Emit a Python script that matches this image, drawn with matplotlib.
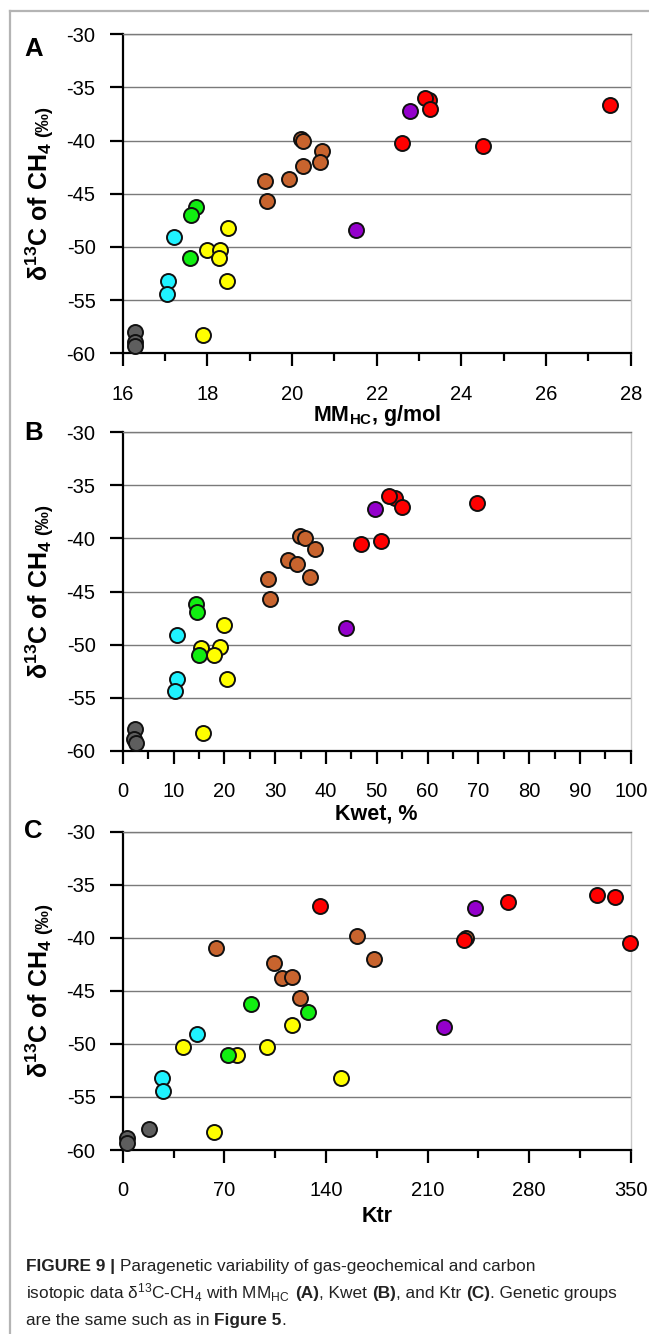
import matplotlib
matplotlib.use("Agg")
import matplotlib.pyplot as plt
from matplotlib.lines import Line2D
from matplotlib.ticker import MultipleLocator
from matplotlib import font_manager

plt.rcParams['font.family'] = ['Liberation Sans', 'DejaVu Sans']
plt.rcParams['axes.unicode_minus'] = False
plt.rcParams['mathtext.fontset'] = 'custom'
plt.rcParams['mathtext.rm'] = 'Liberation Sans'
plt.rcParams['mathtext.bf'] = 'Liberation Sans:bold'
plt.rcParams['mathtext.it'] = 'Liberation Sans:italic'

# genetic groups (plot order) and their colours
group_names = ['gray', 'cyan', 'yellow', 'green', 'brown', 'purple', 'red']
group_colors = ['#5e5e5e', '#1ff2ff', '#ffff00', '#11ee11', '#c8642e', '#9400cc', '#ff0000']

# d13C-CH4 (permil) and the three parameters for each sample, per group
gray_d13c = [-58.0, -58.9, -59.3]
gray_mm = [16.30, 16.30, 16.30]
gray_kwet = [2.5, 2.3, 2.7]
gray_ktr = [18.0, 3.0, 3.0]

cyan_d13c = [-49.1, -53.2, -54.4]
cyan_mm = [17.22, 17.07, 17.04]
cyan_kwet = [10.7, 10.7, 10.2]
cyan_ktr = [51.0, 27.2, 27.5]

yellow_d13c = [-48.2, -50.3, -50.25, -51.0, -53.2, -58.3]
yellow_mm = [18.49, 17.99, 18.31, 18.27, 18.47, 17.89]
yellow_kwet = [20.0, 15.5, 19.1, 18.0, 20.5, 15.8]
yellow_ktr = [116.8, 41.7, 99.4, 78.8, 150.5, 63.0]

green_d13c = [-46.2, -46.95, -51.0]
green_mm = [17.73, 17.62, 17.59]
green_kwet = [14.4, 14.6, 15.1]
green_ktr = [88.6, 127.6, 72.7]

brown_d13c = [-39.8, -40.0, -41.0, -42.0, -42.4, -43.8, -43.65, -45.7]
brown_mm = [20.20, 20.27, 20.70, 20.65, 20.27, 19.37, 19.92, 19.42]
brown_kwet = [34.9, 35.9, 37.8, 32.5, 34.4, 28.7, 36.8, 29.0]
brown_ktr = [161.2, 236.4, 64.3, 172.8, 104.3, 110.0, 116.3, 122.2]

purple_d13c = [-37.2, -48.4]
purple_mm = [22.78, 21.52]
purple_kwet = [49.7, 44.0]
purple_ktr = [242.5, 221.2]

red_d13c = [-36.66, -36.2, -35.97, -37.0, -40.2, -40.5]
red_mm = [27.51, 23.24, 23.14, 23.27, 22.60, 24.51]
red_kwet = [69.8, 53.7, 52.4, 55.0, 50.9, 47.0]
red_ktr = [265.5, 339.5, 326.7, 136.0, 235.3, 349.5]

d13c = [gray_d13c, cyan_d13c, yellow_d13c, green_d13c, brown_d13c, purple_d13c, red_d13c]
mm = [gray_mm, cyan_mm, yellow_mm, green_mm, brown_mm, purple_mm, red_mm]
kwet = [gray_kwet, cyan_kwet, yellow_kwet, green_kwet, brown_kwet, purple_kwet, red_kwet]
ktr = [gray_ktr, cyan_ktr, yellow_ktr, green_ktr, brown_ktr, purple_ktr, red_ktr]

W, H = 649, 1334
fig = plt.figure(figsize=(W / 100, H / 100), dpi=100)
fig.patch.set_facecolor('white')
renderer = fig.canvas.get_renderer()

# frame lines of the figure page (top and left)
fig.add_artist(Line2D([10 / W, 1], [1 - 10.7 / H] * 2, transform=fig.transFigure, color='#b4b4b4', lw=1.6))
fig.add_artist(Line2D([10 / W] * 2, [0, 1 - 10.7 / H], transform=fig.transFigure, color='#b4b4b4', lw=1.6))


def panel(top_px, bottom_px):
    left, right = 122.7, 630.7
    return fig.add_axes([left / W, 1 - bottom_px / H, (right - left) / W, (bottom_px - top_px) / H])


def style(ax, major, minor):
    ax.set_ylim(-60, -30)
    ax.xaxis.set_major_locator(MultipleLocator(major))
    ax.xaxis.set_minor_locator(MultipleLocator(minor))
    ax.yaxis.set_major_locator(MultipleLocator(5))
    ax.grid(axis='y', color='#7a7a7a', lw=1.0)
    ax.set_axisbelow(True)
    ax.spines['top'].set_color('#7a7a7a')
    ax.spines['top'].set_linewidth(1.0)
    ax.spines['right'].set_color('#c8c8c8')
    ax.spines['right'].set_linewidth(1.0)
    for s in ['left', 'bottom']:
        ax.spines[s].set_linewidth(1.6)
        ax.spines[s].set_color('black')
    ax.tick_params(axis='both', which='major', direction='out', length=9.5, width=1.6,
                   labelsize=14.5, pad=10, colors='black')
    ax.tick_params(axis='x', which='major', pad=13)
    ax.tick_params(axis='x', which='minor', direction='out', length=5.5, width=1.6)
    ax.tick_params(axis='y', which='minor', length=0)


def scatter(ax, xs):
    for x, y, c in zip(xs, d13c, group_colors):
        ax.plot(x, y, 'o', ms=10.8, mfc=c, mec='#111111', mew=1.4, ls='none', zorder=3, clip_on=False)


def ylabel(base_x, center_y):
    # big bold "d13C of CH4" followed by a smaller "(permil)", rotated
    kw = dict(fontweight='bold', rotation=90, rotation_mode='anchor', ha='left', va='baseline')
    t1 = fig.text(0, 0, r'δ$^{\mathbf{13}}$C of CH$_{\mathbf{4}}$', fontsize=18, **kw)
    t2 = fig.text(0, 0, '(‰)', fontsize=13.5, **kw)
    h1 = t1.get_window_extent(renderer).height
    h2 = t2.get_window_extent(renderer).height
    gap = 5
    y0 = center_y + (h1 + gap + h2) / 2
    t1.set_position((base_x / W, 1 - y0 / H))
    t2.set_position((base_x / W, 1 - (y0 - h1 - gap) / H))


axA = panel(34.3, 353.3)
axA.set_xlim(16, 28)
style(axA, 2, 1)
scatter(axA, mm)

axB = panel(432.3, 750.7)
axB.set_xlim(0, 100)
style(axB, 10, 5)
scatter(axB, kwet)

axC = panel(831.7, 1150)
axC.set_xlim(0, 350)
style(axC, 70, 35)
scatter(axC, ktr)

for letter, top, bottom, ly in [('A', 34.3, 353.3, 48.5), ('B', 432.3, 750.7, 433), ('C', 831.7, 1150, 831)]:
    fig.text(33.5 / W, 1 - ly / H, letter, fontsize=18.5, fontweight='bold', ha='center', va='center')
    ylabel(48, (top + bottom) / 2)

xc = (122.7 + 630.7) / 2 / W
fig.text(xc, 1 - 415 / H, r'MM$_{\mathbf{HC}}$, g/mol', fontsize=15.5, fontweight='bold', ha='center', va='center')
fig.text(xc, 1 - 814 / H, 'Kwet, %', fontsize=15.5, fontweight='bold', ha='center', va='center')
fig.text(xc, 1 - 1216 / H, 'Ktr', fontsize=15.5, fontweight='bold', ha='center', va='center')

# caption, written piece by piece to mix bold and regular text
names = {f.name for f in font_manager.fontManager.ttflist}
if 'Liberation Sans Narrow' in names:
    cap_family, cap_size = ['Liberation Sans Narrow'], 15.4
else:
    cap_family, cap_size = ['Liberation Sans'], 12.4


def piece_width(s, weight):
    t = fig.text(0, 0, 'x' + s + 'x', fontsize=cap_size, fontweight=weight, family=cap_family)
    w = t.get_window_extent(renderer).width
    t.set_text('xx')
    w -= t.get_window_extent(renderer).width
    t.remove()
    return w


def rich_line(x_px, y_px, pieces):
    x = x_px
    for s, weight in pieces:
        fig.text(x / W, 1 - y_px / H, s, fontsize=cap_size, fontweight=weight, family=cap_family,
                 color='#222222', ha='left', va='baseline')
        x += piece_width(s, weight)


rich_line(26, 1271, [('FIGURE 9 | ', 'bold'),
                     ('Paragenetic variability of gas-geochemical and carbon', 'normal')])
rich_line(26, 1298, [(r'isotopic data δ$^{13}$C-CH$_4$ with MM$_{\mathrm{HC}}$ ', 'normal'), ('(A)', 'bold'),
                     (', Kwet ', 'normal'), ('(B)', 'bold'), (', and Ktr ', 'normal'), ('(C)', 'bold'),
                     ('. Genetic groups', 'normal')])
rich_line(26, 1325, [('are the same such as in ', 'normal'), ('Figure 5', 'bold'), ('.', 'normal')])

fig.savefig('out.png', dpi=100)
